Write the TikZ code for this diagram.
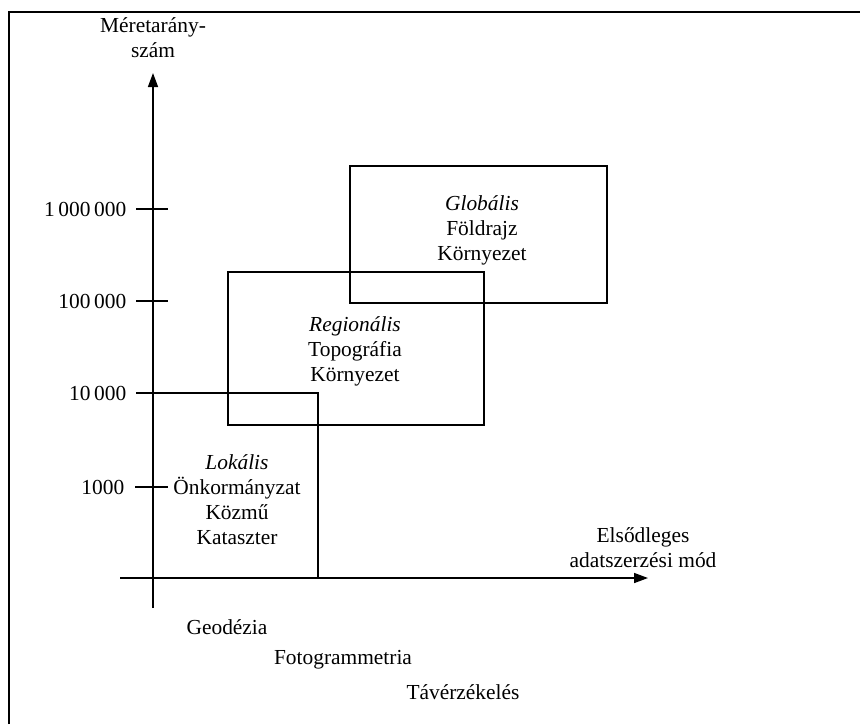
\documentclass[tikz,border=0pt]{standalone}
\usepackage{fontspec}
\setmainfont{Liberation Serif}
\usetikzlibrary{arrows.meta}
\begin{document}
\begin{tikzpicture}
        [>={Triangle[length=7pt,width=5pt]}, x=0.5pt, y=-0.5pt, line width=0.75pt,
         lbl/.style={shape=rectangle, draw=none, align=center, inner sep=0pt,
                     font=\fontsize{10.7}{12.5}\selectfont},
         tick/.style={shape=rectangle, draw=none, anchor=east, inner sep=0pt,
                      font=\fontsize{10.7}{12.5}\selectfont}]
        \useasboundingbox (0, 0) rectangle (860, 724);

        % frame
        \coordinate (fl) at (9, 724);
        \coordinate (fc) at (9, 12);
        \coordinate (fr) at (860, 12);
        \draw[line width=1pt] (fl) -- (fc) -- (fr);

        % axes
        \coordinate (ybot) at (153, 608);
        \coordinate (ytop) at (153, 73);
        \coordinate (xlft) at (120, 578);
        \coordinate (xrgt) at (648, 578);
        \draw[->] (ybot) -- (ytop);
        \draw[->] (xlft) -- (xrgt);

        \node[lbl] (yname) at (153, 38) {Méretarány-\\szám};
        \node[lbl] (xname) at (643, 548) {Elsődleges\\adatszerzési mód};

        % scale ticks
        \node[tick] (t6) at (127, 209) {1\,000\,000};
        \node[tick] (t5) at (127, 301) {100\,000};
        \node[tick] (t4) at (127, 393) {10\,000};
        \node[tick] (t3) at (125, 487) {1000};
        \coordinate (t6e) at (168, 209);
        \coordinate (t5e) at (168, 301);
        \coordinate (t4e) at (168, 393);
        \coordinate (t3e) at (168, 487);
        \draw (t6.east) ++(9, 0) -- (t6e);
        \draw (t5.east) ++(9, 0) -- (t5e);
        \draw (t4.east) ++(9, 0) -- (t4e);
        \draw (t3.east) ++(10, 0) -- (t3e);

        % boxes
        \coordinate (lok1) at (153, 578);
        \coordinate (lok2) at (318, 393);
        \coordinate (reg1) at (228, 425);
        \coordinate (reg2) at (484, 272);
        \coordinate (glo1) at (350, 303);
        \coordinate (glo2) at (607, 166);
        \draw (lok1) rectangle (lok2);
        \draw (reg1) rectangle (reg2);
        \draw (glo1) rectangle (glo2);

        \node[lbl] (glo) at (482, 230) {\textit{Globális}\\Földrajz\\Környezet};
        \node[lbl] (reg) at (355, 351) {\textit{Regionális}\\Topográfia\\Környezet};
        \node[lbl] (lok) at (237, 500)
            {\textit{Lokális}\\Önkormányzat\\Közmű\\Kataszter};

        % data capture methods
        \node[lbl] (geo) at (227, 627) {Geodézia};
        \node[lbl] (fot) at (343, 660) {Fotogrammetria};
        \node[lbl] (tav) at (463, 692) {Távérzékelés};
\end{tikzpicture}
\end{document}
